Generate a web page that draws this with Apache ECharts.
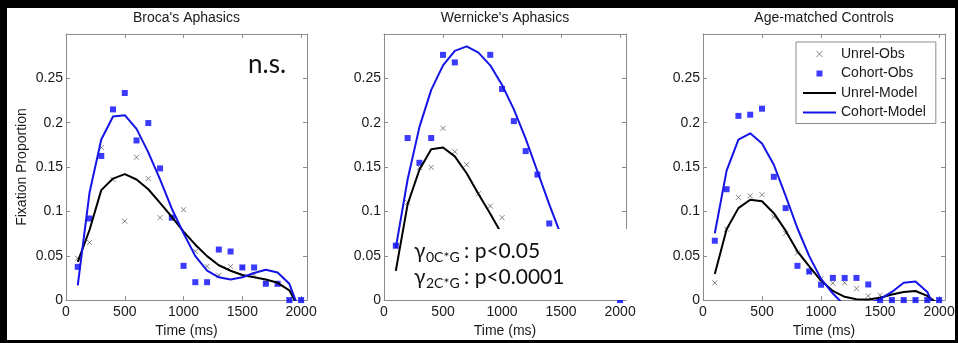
<!DOCTYPE html>
<html>
<head>
<meta charset="utf-8">
<script src="https://cdn.jsdelivr.net/npm/echarts@6/dist/echarts.min.js"></script>
<style>
html, body { margin: 0; padding: 0; background: #fff; }
#chart { width: 958px; height: 343px; }
</style>
</head>
<body>
<div id="chart"></div>
<script>
// time bins (ms)
const times = [100, 200, 300, 400, 500, 600, 700, 800, 900, 1000,
  1100, 1200, 1300, 1400, 1500, 1600, 1700, 1800, 1900, 2000];
const xTicks = [0, 500, 1000, 1500, 2000];
const yTicks = [0, 0.05, 0.1, 0.15, 0.2, 0.25];
const panelTitles = ["Broca's Aphasics", "Wernicke's Aphasics", 'Age-matched Controls'];
const seriesNames = ['Unrel-Obs', 'Cohort-Obs', 'Unrel-Model', 'Cohort-Model'];

// Broca's Aphasics
const brocaUnrelObs = [0.047, 0.065, 0.172, 0.136, 0.089, 0.161, 0.137, 0.093, 0.092, 0.102,
  0.055, 0.038, 0.028, 0.038, 0.037, 0.029, 0.020, 0.018, 0, 0];
const brocaCohortObs = [0.0375, 0.092, 0.1625, 0.215, 0.2335, 0.180, 0.1996, 0.1485, 0.093, 0.0386,
  0.0202, 0.0202, 0.057, 0.0548, 0.0368, 0.0368, 0.0184, 0.0184, 0, 0];
const brocaUnrelModel = [0.043, 0.079, 0.124, 0.137, 0.142, 0.136, 0.125, 0.1096, 0.0938, 0.0772,
  0.0625, 0.0496, 0.0393, 0.0331, 0.0283, 0.0257, 0.0232, 0.0195, 0.011, -0.014];
const brocaCohortModel = [0.0165, 0.121, 0.181, 0.207, 0.2085, 0.193, 0.1665, 0.136, 0.103, 0.0754,
  0.0496, 0.0331, 0.0257, 0.0232, 0.0257, 0.0305, 0.0342, 0.0312, 0.0184, -0.017];

// Wernicke's Aphasics (null = not visible in the figure)
const wernUnrelObs = [0.06, 0.11, 0.1496, 0.1496, 0.1937, 0.1673, 0.1526, 0.120, 0.106, 0.093,
  null, null, null, null, null, null, null, null, null, 0];
const wernCohortObs = [0.0614, 0.1827, 0.1548, 0.1827, 0.2765, 0.268, null, null, 0.2765, 0.238,
  0.2018, 0.168, 0.1415, 0.0864, null, null, null, null, null, 0];
const wernUnrelModel = [0.033, 0.108, 0.147, 0.170, 0.172, 0.162, 0.143, 0.1195, 0.0974, 0.074,
  null, null, null, null, null, null, null, null, null, null];
const wernCohortModel = [0.0588, 0.136, 0.195, 0.237, 0.2647, 0.281, 0.286, 0.279, 0.2647, 0.2426,
  0.215, 0.182, 0.145, 0.108, 0.073, null, null, null, null, null];

// Age-matched Controls
const ctrlUnrelObs = [0.0195, 0.080, 0.1158, 0.1176, 0.1188, 0.0937, 0.0754, 0.0533, 0.031, 0.0239,
  0.0191, 0.0195, 0.0129, 0.0048, 0.0055, 0, 0, 0, 0, 0];
const ctrlCohortObs = [0.0669, 0.125, 0.2077, 0.209, 0.2158, 0.139, 0.1037, 0.0386, 0.0324, 0.0173,
  0.025, 0.025, 0.025, 0.0176, 0, 0, 0, 0, 0, 0];
const ctrlUnrelModel = [0.0294, 0.080, 0.1037, 0.1132, 0.1114, 0.098, 0.0783, 0.055, 0.0379, 0.022,
  0.0103, 0.0037, 0.001, 0.0007, 0.0026, 0.0063, 0.0092, 0.0103, 0.0048, -0.005];
const ctrlCohortModel = [0.0754, 0.146, 0.181, 0.188, 0.1765, 0.1526, 0.1176, 0.081, 0.0496, 0.0239,
  0.0074, -0.006, -0.01, -0.004, 0.001, 0.0092, 0.0195, 0.021, 0.0092, -0.02];

const panelData = [
  [brocaUnrelObs, brocaCohortObs, brocaUnrelModel, brocaCohortModel],
  [wernUnrelObs, wernCohortObs, wernUnrelModel, wernCohortModel],
  [ctrlUnrelObs, ctrlCohortObs, ctrlUnrelModel, ctrlCohortModel]
];

const gridBoxes = [
  { left: 66, top: 34, width: 241, height: 271 },
  { left: 384, top: 34, width: 242, height: 271 },
  { left: 703, top: 34, width: 242, height: 271 }
];

const font = '"Liberation Sans", Arial, sans-serif';
const axisGray = '#8c8c8c';
const textCol = '#1a1a1a';
const xMark = 'path://M0,0L10,10M10,0L0,10';
const squareMark = 'path://M0,0H10V10H0Z';

function pairs(arr) {
  return times.map((t, i) => [t, arr[i]]);
}

let grids = [], xAxes = [], yAxes = [], series = [];

gridBoxes.forEach((g, p) => {
  grids.push(Object.assign({ containLabel: false }, g));
  const common = {
    type: 'value', gridIndex: p, splitLine: { show: false },
    axisLine: { show: true, onZero: false, lineStyle: { color: axisGray, width: 1 } },
    axisTick: { show: true, inside: true, length: 4, lineStyle: { color: axisGray } }
  };
  xAxes.push(Object.assign({}, common, {
    position: 'bottom', min: 0, max: 2050, interval: 500,
    axisLabel: {
      showMaxLabel: false, margin: 5, fontSize: 14, fontFamily: font, color: textCol,
      formatter: v => xTicks.indexOf(v) >= 0 ? String(v) : ''
    },
    name: 'Time (ms)', nameLocation: 'middle', nameGap: 21,
    nameTextStyle: { fontSize: 14, fontFamily: font, color: textCol }
  }));
  xAxes.push(Object.assign({}, common, {
    position: 'top', min: 0, max: 2050, interval: 500,
    axisLabel: { show: false },
    name: panelTitles[p], nameLocation: 'middle', nameGap: 9,
    nameTextStyle: { fontSize: 14, fontFamily: font, color: textCol }
  }));
  yAxes.push(Object.assign({}, common, {
    position: 'left', min: 0, max: 0.3, interval: 0.05,
    axisLabel: {
      showMaxLabel: false, margin: 3, fontSize: 14, fontFamily: font, color: textCol,
      formatter: v => {
        const r = Math.round(v * 100) / 100;
        return yTicks.indexOf(r) >= 0 ? String(r) : '';
      }
    },
    name: p === 0 ? 'Fixation Proportion' : '', nameLocation: 'middle', nameGap: 37,
    nameTextStyle: { fontSize: 14, fontFamily: font, color: textCol }
  }));
  yAxes.push(Object.assign({}, common, {
    position: 'right', min: 0, max: 0.3, interval: 0.05,
    axisLabel: { show: false }
  }));

  const d = panelData[p];
  const xi = p * 2, yi = p * 2;
  series.push({
    name: seriesNames[0], type: 'scatter', xAxisIndex: xi, yAxisIndex: yi,
    symbol: xMark, symbolSize: 5, clip: false, z: 2,
    itemStyle: { color: 'rgba(0,0,0,0)', borderColor: '#555', borderWidth: 0.9 },
    data: pairs(d[0])
  });
  series.push({
    name: seriesNames[1], type: 'scatter', xAxisIndex: xi, yAxisIndex: yi,
    symbol: 'rect', symbolSize: 6, clip: false, z: 3,
    itemStyle: { color: '#0a0aff' },
    data: pairs(d[1])
  });
  series.push({
    name: seriesNames[2], type: 'line', xAxisIndex: xi, yAxisIndex: yi,
    symbol: 'none', clip: true, z: 4,
    lineStyle: { color: '#000', width: 2 }, itemStyle: { color: '#000' },
    data: pairs(d[2])
  });
  series.push({
    name: seriesNames[3], type: 'line', xAxisIndex: xi, yAxisIndex: yi,
    symbol: 'none', clip: true, z: 5,
    lineStyle: { color: '#1414e6', width: 2 }, itemStyle: { color: '#1414e6' },
    data: pairs(d[3])
  });
});

const annFont = 'Lato, "Liberation Sans", sans-serif';
function annText(x, y, text, size) {
  return {
    type: 'text', x: x, y: y, z: 101,
    style: { text: text, font: size + 'px ' + annFont, fill: '#111', verticalAlign: 'middle', align: 'left' }
  };
}

const option = {
  animation: false,
  backgroundColor: '#fff',
  grid: grids,
  xAxis: xAxes,
  yAxis: yAxes,
  series: series,
  legend: {
    orient: 'vertical', left: 796, top: 42,
    padding: [5, 10, 4, 6], itemGap: 5.5, itemWidth: 33, itemHeight: 6,
    backgroundColor: '#fff', borderColor: axisGray, borderWidth: 1,
    selectedMode: false, symbolKeepAspect: true,
    itemStyle: { borderWidth: 0.9 },
    textStyle: { fontSize: 14, fontFamily: font, color: textCol },
    data: [
      { name: seriesNames[0] },
      { name: seriesNames[1], icon: squareMark, itemStyle: { borderWidth: 0 } },
      { name: seriesNames[2], itemStyle: { opacity: 0 } },
      { name: seriesNames[3], itemStyle: { opacity: 0 } }
    ]
  },
  graphic: [
    // outer black frame
    { type: 'rect', z: 200, shape: { x: 0, y: 0, width: 958, height: 8 }, style: { fill: '#000' } },
    { type: 'rect', z: 200, shape: { x: 0, y: 0, width: 7, height: 343 }, style: { fill: '#000' } },
    { type: 'rect', z: 200, shape: { x: 955, y: 0, width: 3, height: 343 }, style: { fill: '#000' } },
    { type: 'rect', z: 200, shape: { x: 0, y: 340, width: 958, height: 3 }, style: { fill: '#000' } },
    // n.s. label
    annText(248, 65, 'n.s.', 26),
    // white annotation box over Wernicke panel
    { type: 'rect', z: 100, shape: { x: 406, y: 229, width: 224, height: 71 }, style: { fill: '#fff' } },
    annText(414, 251, 'γ', 21),
    annText(426, 257.5, '0C*G', 14),
    annText(464, 251, ': p<0.05', 21),
    annText(414, 277, 'γ', 21),
    annText(426, 283.5, '2C*G', 14),
    annText(464, 277, ': p<0.0001', 21)
  ]
};

const chart = echarts.init(document.getElementById('chart'));
chart.setOption(option);
</script>
</body>
</html>
